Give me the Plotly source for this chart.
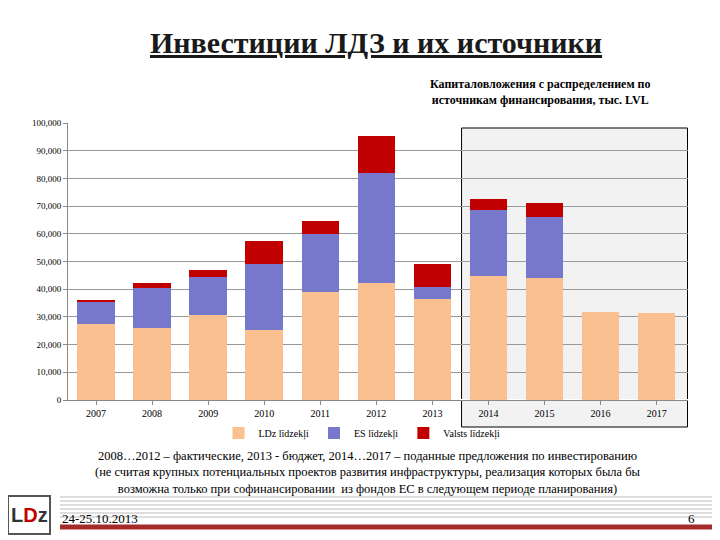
import plotly.graph_objects as go

years = ["2007", "2008", "2009", "2010", "2011", "2012", "2013", "2014", "2015", "2016", "2017"]
ldz = [27400, 26000, 30700, 25300, 39000, 42200, 36500, 44800, 44000, 31800, 31400]
es = [8000, 14400, 13700, 23800, 21000, 39800, 4300, 23800, 22000, 0, 0]
valsts = [500, 1800, 2500, 8300, 4600, 13300, 8200, 4000, 5000, 0, 0]

series = [("LDz līdzekļi", ldz, "#FAC090"), ("ES līdzekļi", es, "#7777CC"), ("Valsts līdzekļi", valsts, "#C00000")]

fig = go.Figure()
for name, vals, col in series:
    fig.add_trace(go.Bar(x=years, y=vals, name=name, marker=dict(color=col, line=dict(width=0))))

PH = 277.0
def py(p):
    # screen pixel y -> paper y
    return (400 - p) / PH
def px(p):
    return (p - 68) / 620.0

shapes = [
    dict(type="rect", xref="x", yref="paper", x0=6.52, x1=10.55, y0=py(427), y1=py(128),
         fillcolor="#F2F2F2", line=dict(color="black", width=1), layer="below"),
]
for yy in [497, 501, 505, 509, 513, 517]:
    shapes.append(dict(type="line", xref="paper", yref="paper", x0=px(60), x1=px(715),
                       y0=py(yy), y1=py(yy), line=dict(color="#BBBBBB", width=1)))
shapes.append(dict(type="line", xref="paper", yref="paper", x0=px(60), x1=px(715),
                   y0=py(527), y1=py(527), line=dict(color="#A52A2A", width=5)))
shapes.append(dict(type="rect", xref="paper", yref="paper", x0=px(8), x1=px(50),
                   y0=py(534), y1=py(496), line=dict(color="#555555", width=2)))

def ann(text, x, y, size, **kw):
    d = dict(text=text, xref="paper", yref="paper", x=px(x), y=py(y), showarrow=False,
             xanchor="center", yanchor="middle", font=dict(size=size, family="Liberation Serif"))
    d.update(kw)
    return d

fig.update_layout(
    barmode="stack",
    bargap=0.33,
    width=720, height=540,
    margin=dict(l=60, r=40, t=115, b=148),
    paper_bgcolor="white", plot_bgcolor="rgba(0,0,0,0)",
    font=dict(family="Liberation Serif", size=9, color="black"),
    xaxis=dict(showgrid=False, showline=True, linecolor="#888888", ticks="outside",
               ticklen=4, tickcolor="#888888", tickfont=dict(size=10)),
    yaxis=dict(range=[0, 100000], dtick=10000, tickformat=",", gridcolor="#999999",
               showline=True, linecolor="#888888", ticks="outside", ticklen=4, tickcolor="#888888"),
    legend=dict(orientation="h", x=px(362), xanchor="center", y=py(433), yanchor="middle",
                font=dict(size=10), traceorder="normal", itemwidth=30, bgcolor="rgba(0,0,0,0)"),
    shapes=shapes,
    annotations=[
        ann("<b><u>Инвестиции ЛДЗ и их источники</u></b>", 376, 42, 30, font=dict(size=30, family="Liberation Serif", color="#1a1a1a")),
        ann("<b>Капиталовложения с распределением по<br>источникам финансирования, тыс. LVL</b>", 540, 92, 12),
        ann("2008…2012 – фактические, 2013 - бюджет, 2014…2017 – поданные предложения по инвестированию<br>"
            "(не считая крупных потенциальных проектов развития инфраструктуры, реализация которых была бы<br>"
            "возможна только при софинансировании  из фондов ЕС в следующем периоде планирования)", 368, 472, 12.5),
        ann("24-25.10.2013", 60, 519, 13, xanchor="left"),
        ann("6", 697, 519, 13, xanchor="right"),
        ann("<b>L<span style='color:#C00000'>D</span>z</b>", 29, 515, 20,
            font=dict(size=20, family="Liberation Sans", color="#333333")),
    ],
)

fig.write_html("out.html")
